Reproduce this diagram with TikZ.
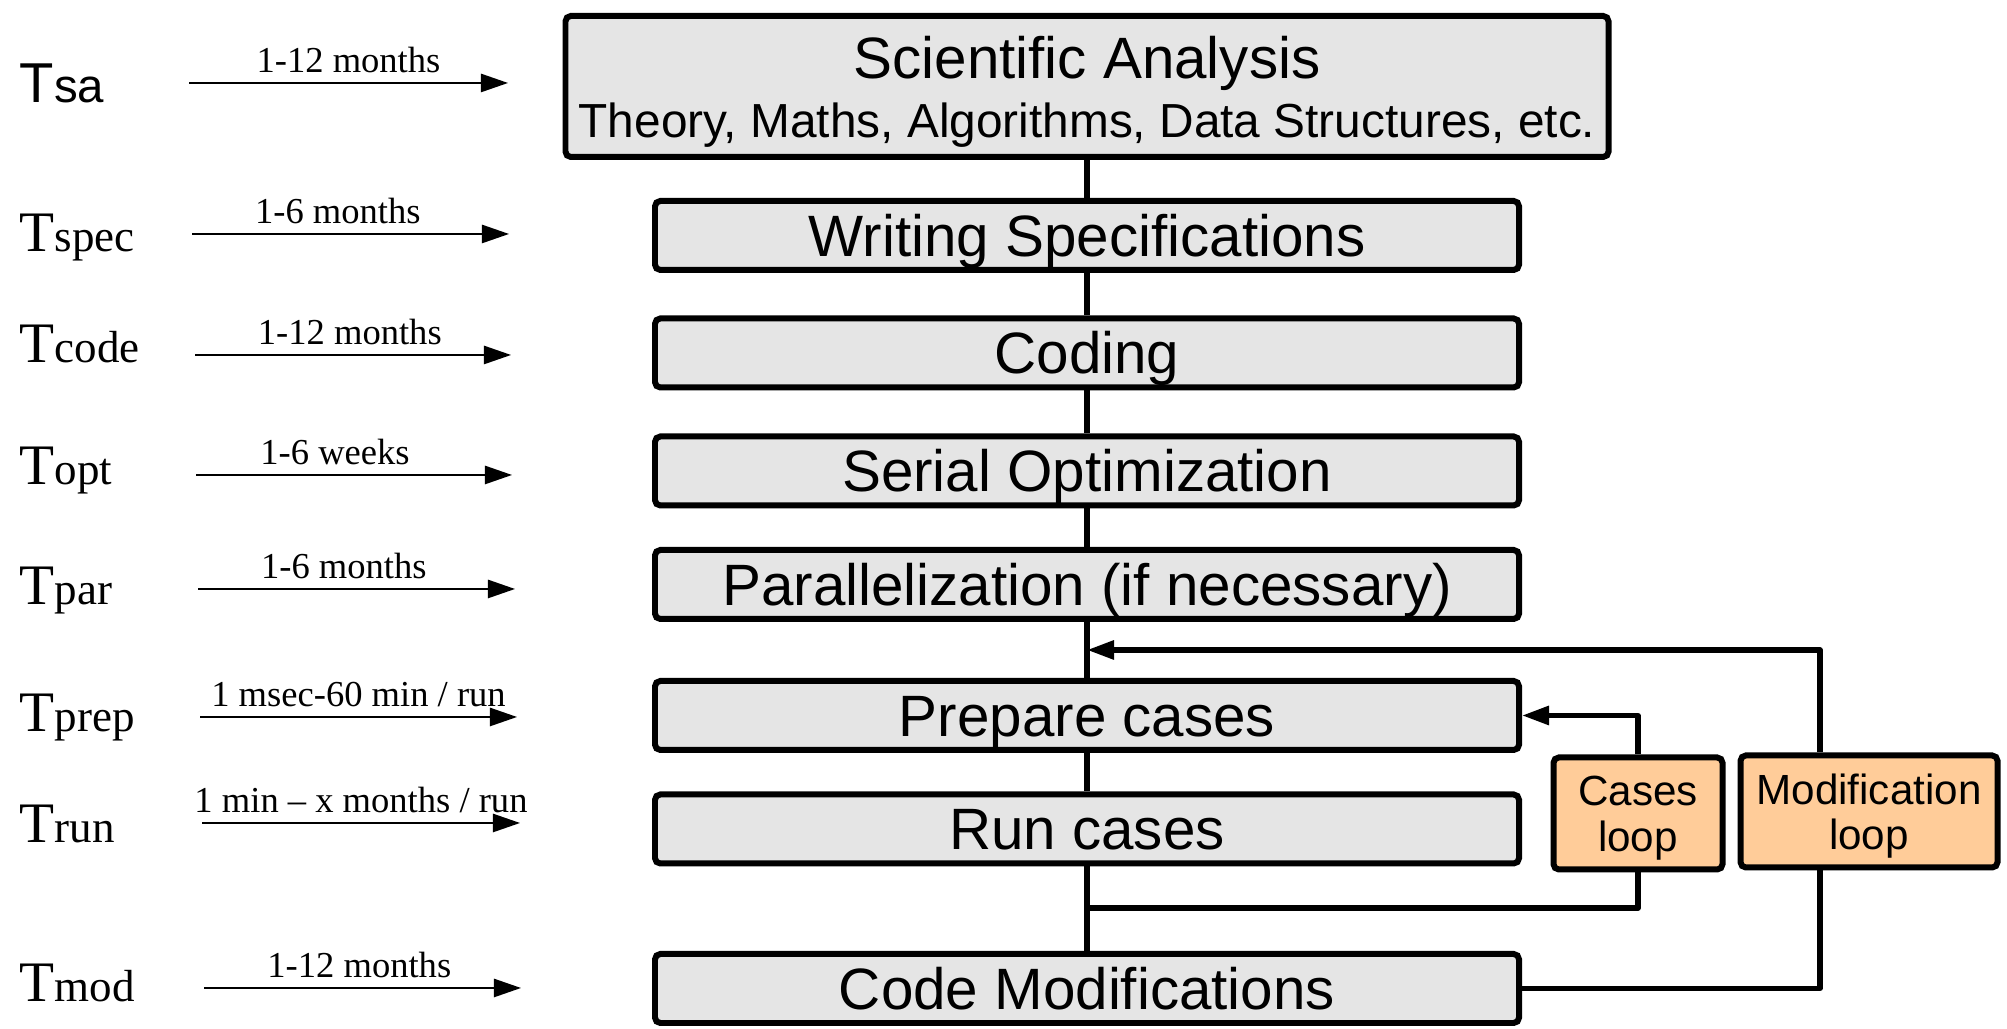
\documentclass[tikz,border=0pt]{standalone}
\usepackage{fontspec}
\setmainfont{Liberation Serif}
\setsansfont{Liberation Sans}
\usetikzlibrary{arrows.meta, positioning, calc}
\definecolor{stagefill}{HTML}{E5E5E5}
\definecolor{loopfill}{HTML}{FFCC99}

\begin{document}
\begin{tikzpicture}[
    >={Triangle[length=7.7pt,width=5.2pt]},
    stagebox/.style={
      draw=black, fill=stagefill,
      rounded corners=1.5pt, line width=1.7pt,
      align=center, inner sep=0pt,
      minimum width=8.64cm, minimum height=0.69cm,
      text height=15.4pt, text depth=3.5pt,
      font=\sffamily\fontsize{16.6}{19}\selectfont,
    },
    topbox/.style={
      draw=black, fill=stagefill,
      rounded corners=1.5pt, line width=1.7pt,
      align=center, inner sep=0pt,
      minimum width=10.43cm, minimum height=1.41cm,
      font=\sffamily\fontsize{16.6}{17}\selectfont,
    },
    loopbox/.style={
      draw=black, fill=loopfill,
      rounded corners=1.5pt, line width=1.7pt,
      align=center, inner sep=0pt,
      minimum height=1.12cm,
      font=\sffamily\fontsize{12}{12.9}\selectfont,
    },
    flowline/.style={line width=1.5pt, line join=round},
    looparrow/.style={->, line width=1.5pt, line join=round},
    timearrow/.style={->, line width=0.5pt},
    timelabel/.style={anchor=base, yshift=3.1pt, inner sep=0pt,
                      font=\fontsize{10.4}{12}\selectfont},
    phaselabel/.style={anchor=base west, inner sep=0pt},
  ]
  \useasboundingbox (0,0) rectangle (20.07,10.29);

  % -----------------------------------------------------------
  % Development stages (centre column)
  % -----------------------------------------------------------
  \node[topbox]   (sa)   at (10.87, 9.425) {\rule{0pt}{15.1pt}Scientific Analysis\\
                   {\fontsize{13.6}{15}\selectfont Theory, Maths, Algorithms, Data Structures, etc.}};
  \node[stagebox] (spec) at (10.87, 7.935) {Writing Specifications};
  \node[stagebox] (code) at (10.87, 6.76)  {Coding};
  \node[stagebox] (opt)  at (10.87, 5.58)  {Serial Optimization};
  \node[stagebox] (par)  at (10.87, 4.445) {Parallelization (if necessary)};
  \node[stagebox] (prep) at (10.87, 3.135) {Prepare cases};
  \node[stagebox] (run)  at (10.87, 2.00)  {Run cases};
  \node[stagebox] (mod)  at (10.87, 0.405) {Code Modifications};

  \draw[flowline] (sa)   -- (spec);
  \draw[flowline] (spec) -- (code);
  \draw[flowline] (code) -- (opt);
  \draw[flowline] (opt)  -- (par);
  \draw[flowline] (par)  -- (prep);
  \draw[flowline] (prep) -- (run);
  \draw[flowline] (run)  -- (mod);

  % -----------------------------------------------------------
  % Loops (right)
  % -----------------------------------------------------------
  \node[loopbox, minimum width=1.69cm] (caseloop) at (16.38, 2.155)
        {\rule{0pt}{11.1pt}Cases\\loop};
  \node[loopbox, minimum width=2.57cm] (modloop)  at (18.69, 2.175)
        {\rule{0pt}{11.2pt}Modification\\loop};

  % cases loop: run cases -> prepare cases
  \coordinate (casejoin) at (10.87, 1.21);
  \draw[flowline]  (caseloop.south) |- (casejoin);
  \draw[looparrow] (caseloop.north) |- (prep.east);

  % modification loop: code modifications -> back above prepare cases
  \coordinate (modrail) at (18.20, 2.17);
  \coordinate (modjoin) at (10.87, 3.79);
  \draw[flowline]  (mod.east) -| (modrail |- modloop.south);
  \draw[looparrow] (modrail |- modloop.north) |- (modjoin);

  % -----------------------------------------------------------
  % Time per phase (left)
  % -----------------------------------------------------------
  \node[phaselabel, font=\sffamily] (tsa)   at (0.19, 9.26)
        {{\fontsize{16}{16}\selectfont T}{\fontsize{13.5}{14}\selectfont sa}};
  \node[phaselabel] (tspec) at (0.19, 7.77)
        {{\fontsize{16.3}{16}\selectfont T}{\fontsize{12.8}{14}\selectfont spec}};
  \node[phaselabel] (tcode) at (0.19, 6.66)
        {{\fontsize{16.3}{16}\selectfont T}{\fontsize{12.8}{14}\selectfont code}};
  \node[phaselabel] (topt)  at (0.19, 5.44)
        {{\fontsize{16.3}{16}\selectfont T}{\fontsize{12.8}{14}\selectfont opt}};
  \node[phaselabel] (tpar)  at (0.19, 4.24)
        {{\fontsize{16.3}{16}\selectfont T}{\fontsize{12.8}{14}\selectfont par}};
  \node[phaselabel] (tprep) at (0.19, 2.97)
        {{\fontsize{16.3}{16}\selectfont T}{\fontsize{12.8}{14}\selectfont prep}};
  \node[phaselabel] (trun)  at (0.19, 1.86)
        {{\fontsize{16.3}{16}\selectfont T}{\fontsize{12.8}{14}\selectfont run}};
  \node[phaselabel] (tmod)  at (0.19, 0.27)
        {{\fontsize{16.3}{16}\selectfont T}{\fontsize{12.8}{14}\selectfont mod}};

  \coordinate (sa-a)   at (1.89, 9.46);  \coordinate (sa-b)   at (5.08, 9.46);
  \coordinate (spec-a) at (1.92, 7.95);  \coordinate (spec-b) at (5.09, 7.95);
  \coordinate (code-a) at (1.95, 6.74);  \coordinate (code-b) at (5.11, 6.74);
  \coordinate (opt-a)  at (1.96, 5.54);  \coordinate (opt-b)  at (5.12, 5.54);
  \coordinate (par-a)  at (1.98, 4.40);  \coordinate (par-b)  at (5.15, 4.40);
  \coordinate (prep-a) at (2.00, 3.12);  \coordinate (prep-b) at (5.17, 3.12);
  \coordinate (run-a)  at (2.02, 2.06);  \coordinate (run-b)  at (5.20, 2.06);
  \coordinate (mod-a)  at (2.04, 0.41);  \coordinate (mod-b)  at (5.21, 0.41);

  \draw[timearrow] (sa-a)   -- node[timelabel] (lsa)   {1-12 months} (sa-b);
  \draw[timearrow] (spec-a) -- node[timelabel, pos=0.46] (lspec) {1-6 months} (spec-b);
  \draw[timearrow] (code-a) -- node[timelabel, pos=0.49] (lcode) {1-12 months} (code-b);
  \draw[timearrow] (opt-a)  -- node[timelabel, pos=0.44] (lopt)  {1-6 weeks} (opt-b);
  \draw[timearrow] (par-a)  -- node[timelabel, pos=0.46] (lpar)  {1-6 months} (par-b);
  \draw[timearrow] (prep-a) -- node[timelabel] (lprep) {1 msec-60 min / run} (prep-b);
  \draw[timearrow] (run-a)  -- node[timelabel] (lrun)  {1 min -- x months / run} (run-b);
  \draw[timearrow] (mod-a)  -- node[timelabel, pos=0.49] (lmod)  {1-12 months} (mod-b);

\end{tikzpicture}
\end{document}
